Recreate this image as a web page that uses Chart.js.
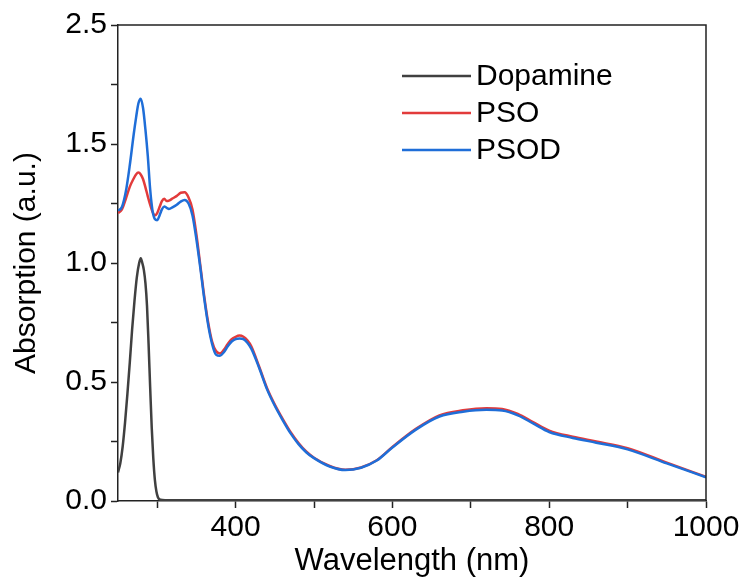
<!DOCTYPE html>
<html>
<head>
<meta charset="utf-8">
<script src="https://cdn.jsdelivr.net/npm/chart.js@4"></script>
<style>
  html, body { margin: 0; padding: 0; background: #fff; }
  #wrap { width: 746px; height: 581px; }
</style>
</head>
<body>
<div id="wrap"><canvas id="uvChart"></canvas></div>
<script>
// Dopamine spectrum (own wavelength grid, dense around the 280 nm peak)
const dopWavelengths = [250, 253, 256, 259, 262, 265, 268, 271, 274, 277, 279, 281, 283, 285, 287, 289, 291, 293, 295, 297, 299, 301, 304, 310, 400, 600, 800, 1000];
const dopamine = [0.12, 0.16, 0.23, 0.33, 0.45, 0.58, 0.72, 0.84, 0.94, 1.00, 1.02, 1.00, 0.97, 0.915, 0.82, 0.66, 0.48, 0.31, 0.18, 0.09, 0.04, 0.015, 0.005, 0.003, 0.003, 0.003, 0.003, 0.003];

// PSO / PSOD share one grid
const wavelengths = [250, 255, 260, 265, 270, 273, 276, 279, 282, 285, 288, 291, 294, 297, 300, 303, 306, 309, 312, 315, 320, 325, 330, 335, 340, 345, 350, 355, 360, 365, 370, 375, 380, 385, 390, 395, 400, 405, 410, 415, 420, 430, 440, 450, 460, 470, 480, 490, 500, 520, 540, 560, 580, 600, 630, 660, 690, 720, 740, 760, 780, 800, 830, 860, 900, 950, 1000];
const pso = [1.21, 1.225, 1.27, 1.32, 1.355, 1.372, 1.38, 1.372, 1.352, 1.318, 1.28, 1.245, 1.215, 1.20, 1.21, 1.235, 1.26, 1.27, 1.26, 1.262, 1.272, 1.282, 1.295, 1.297, 1.275, 1.225, 1.12, 0.99, 0.86, 0.75, 0.67, 0.63, 0.62, 0.635, 0.66, 0.68, 0.69, 0.695, 0.69, 0.675, 0.65, 0.565, 0.475, 0.405, 0.345, 0.29, 0.245, 0.208, 0.182, 0.147, 0.131, 0.141, 0.171, 0.227, 0.303, 0.36, 0.381, 0.39, 0.387, 0.366, 0.33, 0.296, 0.27, 0.25, 0.222, 0.161, 0.102];
const psod = [1.22, 1.235, 1.30, 1.41, 1.54, 1.61, 1.67, 1.69, 1.65, 1.56, 1.45, 1.31, 1.22, 1.185, 1.18, 1.20, 1.225, 1.237, 1.232, 1.227, 1.235, 1.245, 1.258, 1.265, 1.25, 1.20, 1.10, 0.98, 0.85, 0.74, 0.66, 0.615, 0.61, 0.625, 0.65, 0.67, 0.68, 0.683, 0.68, 0.665, 0.64, 0.56, 0.47, 0.40, 0.34, 0.285, 0.24, 0.205, 0.18, 0.145, 0.13, 0.14, 0.17, 0.225, 0.30, 0.355, 0.375, 0.383, 0.38, 0.36, 0.325, 0.29, 0.265, 0.245, 0.217, 0.158, 0.10];

const seriesNames = ["Dopamine", "PSO", "PSOD"];
const seriesColors = ["#404040", "#e23b3b", "#1f6ed8"];

// axis ticks (the figure labels its top tick "2.5")
const xTickValues = [300, 400, 500, 600, 700, 800, 900, 1000];
const xTickLabels = { 400: "400", 600: "600", 800: "800", 1000: "1000" };
const yTickValues = [0, 0.25, 0.5, 0.75, 1.0, 1.25, 1.5, 1.75, 2.0];
const yTickLabels = { 0: "0.0", 0.5: "0.5", 1: "1.0", 1.5: "1.5", 2: "2.5" };

const FONT = "'Liberation Sans', Arial, sans-serif";

function pts(xs, ys) {
    return xs.map((x, i) => ({ x: x, y: ys[i] }));
}

const frameAndLegend = {
    id: "frameAndLegend",
    afterDraw(chart) {
        const { ctx, chartArea } = chart;
        ctx.save();
        // top and right frame
        ctx.strokeStyle = "#222";
        ctx.lineWidth = 1.5;
        ctx.beginPath();
        ctx.moveTo(chartArea.left, chartArea.top);
        ctx.lineTo(chartArea.right, chartArea.top);
        ctx.lineTo(chartArea.right, chartArea.bottom);
        ctx.stroke();

        // legend
        const x0 = chartArea.left + 284;
        const x1 = chartArea.left + 353;
        ctx.font = "30px " + FONT;
        ctx.textBaseline = "middle";
        ctx.fillStyle = "#000";
        chart.data.datasets.forEach((ds, i) => {
            const y = chartArea.top + 51 + i * 37;
            ctx.strokeStyle = ds.borderColor;
            ctx.lineWidth = 2.5;
            ctx.beginPath();
            ctx.moveTo(x0, y);
            ctx.lineTo(x1, y);
            ctx.stroke();
            ctx.fillText(ds.label, x1 + 5, y + 1);
        });
        ctx.restore();
    }
};

new Chart(document.getElementById("uvChart"), {
    type: "line",
    data: {
        datasets: [
            { label: seriesNames[0], data: pts(dopWavelengths, dopamine), borderColor: seriesColors[0], order: 2 },
            { label: seriesNames[1], data: pts(wavelengths, pso), borderColor: seriesColors[1], order: 1 },
            { label: seriesNames[2], data: pts(wavelengths, psod), borderColor: seriesColors[2], order: 0 }
        ]
    },
    options: {
        responsive: true,
        maintainAspectRatio: false,
        animation: false,
        layout: { padding: { top: 25, right: 40, left: 0, bottom: 0 } },
        elements: {
            point: { radius: 0 },
            line: { borderWidth: 2.5, cubicInterpolationMode: "monotone", fill: false }
        },
        plugins: {
            legend: { display: false },
            tooltip: { enabled: false }
        },
        scales: {
            x: {
                type: "linear",
                min: 250,
                max: 1000,
                afterBuildTicks: s => { s.ticks = xTickValues.map(v => ({ value: v })); },
                afterFit: s => { s.height = 80; },
                border: { color: "#222", width: 1.5 },
                grid: { drawOnChartArea: false, tickLength: 7, tickColor: "#222", tickWidth: 1.5 },
                ticks: {
                    autoSkip: false,
                    maxRotation: 0,
                    padding: 2,
                    color: "#000",
                    font: { family: FONT, size: 30 },
                    callback: v => xTickLabels[v] || ""
                },
                title: {
                    display: true,
                    text: "Wavelength (nm)",
                    color: "#000",
                    font: { family: FONT, size: 31 },
                    padding: { top: 0, bottom: 1 }
                }
            },
            y: {
                min: 0,
                max: 2.0,
                afterBuildTicks: s => { s.ticks = yTickValues.map(v => ({ value: v })); },
                afterFit: s => { s.width = 118; },
                border: { color: "#222", width: 1.5 },
                grid: { drawOnChartArea: false, tickLength: 7, tickColor: "#222", tickWidth: 1.5 },
                ticks: {
                    autoSkip: false,
                    padding: 4,
                    color: "#000",
                    font: { family: FONT, size: 30 },
                    callback: v => yTickLabels[v] || ""
                },
                title: {
                    display: true,
                    text: "Absorption (a.u.)",
                    color: "#000",
                    font: { family: FONT, size: 30 },
                    padding: { top: 9, bottom: 0 }
                }
            }
        }
    },
    plugins: [frameAndLegend]
});
</script>
</body>
</html>
